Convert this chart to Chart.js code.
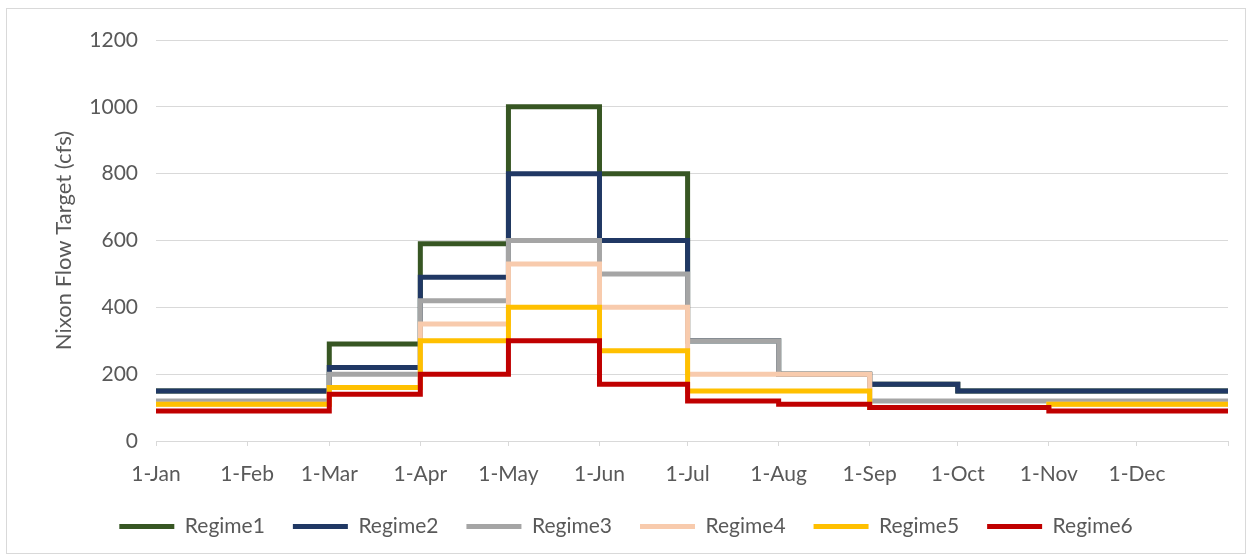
<!DOCTYPE html>
<html>
<head>
<meta charset="utf-8">
<title>Nixon Flow Target</title>
<script src="https://cdn.jsdelivr.net/npm/chart.js@4.4.1/dist/chart.umd.min.js"></script>
<style>
  html, body { margin: 0; padding: 0; background: #ffffff; }
  #chart-wrap {
    position: absolute;
    left: 6px;
    top: 8px;
    width: 1238px;
    height: 544px;
    border: 1px solid #d9d9d9;
  }
</style>
</head>
<body>
<div id="chart-wrap">
  <canvas id="flow-chart"></canvas>
</div>
<script>
// Month labels along the x axis and the day of year each month starts on
// (the last entry is the end of the year, it gets no label)
const monthLabels = ["1-Jan", "1-Feb", "1-Mar", "1-Apr", "1-May", "1-Jun",
  "1-Jul", "1-Aug", "1-Sep", "1-Oct", "1-Nov", "1-Dec"];
const monthStartDays = [0, 31, 59, 90, 120, 151, 181, 212, 243, 273, 304, 334, 365];

// Flow target (cfs) for each month, the last value holds through 31-Dec
const regime1 = [150, 150, 290, 590, 1000, 800, 300, 200, 170, 150, 150, 150, 150];
const regime2 = [150, 150, 220, 490, 800, 600, 300, 200, 170, 150, 150, 150, 150];
const regime3 = [120, 120, 200, 420, 600, 500, 300, 200, 120, 120, 120, 120, 120];
const regime4 = [110, 110, 160, 350, 530, 400, 200, 200, 100, 100, 110, 110, 110];
const regime5 = [110, 110, 160, 300, 400, 270, 150, 150, 100, 100, 110, 110, 110];
const regime6 = [90, 90, 140, 200, 300, 170, 120, 110, 100, 100, 90, 90, 90];

const yTicks = [0, 200, 400, 600, 800, 1000, 1200];

const seriesNames = ["Regime1", "Regime2", "Regime3", "Regime4", "Regime5", "Regime6"];
const seriesValues = [regime1, regime2, regime3, regime4, regime5, regime6];
const seriesColors = ["#375623", "#203864", "#a5a5a5", "#f8cbad", "#ffc000", "#c00000"];

const textColor = "#595959";
const gridColor = "#d9d9d9";

Chart.defaults.font.family = "Lato, 'Open Sans', sans-serif";
Chart.defaults.font.size = 21;
Chart.defaults.color = textColor;

// Pair every value with the day its month starts
function toPoints(values) {
  return values.map((v, i) => ({ x: monthStartDays[i], y: v }));
}

// Regime6 should sit on top, so later series get a lower draw order
const datasets = seriesNames.map((name, i) => ({
  label: name,
  data: toPoints(seriesValues[i]),
  borderColor: seriesColors[i],
  backgroundColor: seriesColors[i],
  borderWidth: 5,
  stepped: true,
  pointRadius: 0,
  fill: false,
  order: seriesNames.length - i
}));

const config = {
  type: "line",
  data: { datasets: datasets },
  options: {
    responsive: true,
    maintainAspectRatio: false,
    animation: false,
    layout: {
      padding: { top: 31, right: 17, bottom: 6, left: 17 }
    },
    plugins: {
      tooltip: { enabled: false },
      legend: {
        position: "bottom",
        labels: {
          usePointStyle: true,
          pointStyle: "line",
          pointStyleWidth: 55,
          padding: 28,
          color: textColor,
          font: { size: 21 },
          // keep legend in series order even though draw order is reversed
          sort: (a, b) => a.datasetIndex - b.datasetIndex
        }
      }
    },
    scales: {
      x: {
        type: "linear",
        min: 0,
        max: 365,
        afterBuildTicks: (scale) => {
          scale.ticks = monthStartDays.map((d) => ({ value: d }));
        },
        afterFit: (scale) => {
          scale.height = 47;
        },
        ticks: {
          autoSkip: false,
          maxRotation: 0,
          padding: 16,
          color: textColor,
          font: { size: 21 },
          callback: (value, index) => monthLabels[index] || ""
        },
        grid: {
          drawOnChartArea: false,
          drawTicks: true,
          tickLength: 5,
          color: gridColor
        },
        border: { display: true, color: gridColor }
      },
      y: {
        min: 0,
        max: 1200,
        afterBuildTicks: (scale) => {
          scale.ticks = yTicks.map((v) => ({ value: v }));
        },
        afterFit: (scale) => {
          scale.width = 132;
        },
        ticks: {
          padding: 18,
          color: textColor,
          font: { size: 21 },
          callback: (value) => String(value)
        },
        grid: {
          drawTicks: false,
          color: gridColor
        },
        border: { display: false },
        title: {
          display: true,
          text: "Nixon Flow Target (cfs)",
          color: textColor,
          font: { size: 22 },
          padding: { top: 27, bottom: 0 }
        }
      }
    }
  }
};

window.flowChart = new Chart(document.getElementById("flow-chart"), config);
</script>
</body>
</html>
